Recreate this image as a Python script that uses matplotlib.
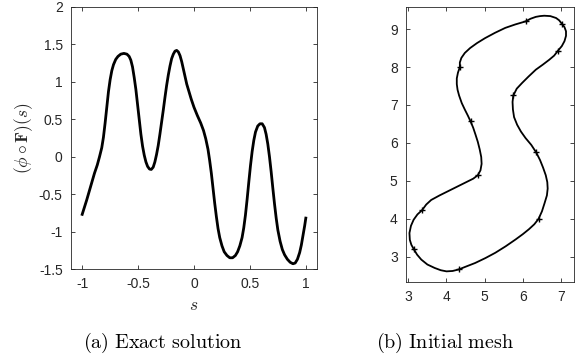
import numpy as np
import matplotlib
matplotlib.use("Agg")
import matplotlib.pyplot as plt

plt.rcParams['font.family'] = ['Liberation Sans', 'DejaVu Sans']
plt.rcParams['mathtext.fontset'] = 'cm'
plt.rcParams['axes.unicode_minus'] = False

# (a) exact solution
s_vals = [-1.0, -0.96, -0.925, -0.89, -0.865, -0.845, -0.825, -0.81, -0.795, -0.78,
          -0.765, -0.75, -0.735, -0.72, -0.70, -0.68, -0.655, -0.627, -0.60, -0.58,
          -0.565, -0.55, -0.535, -0.52, -0.505, -0.49, -0.475, -0.46, -0.445, -0.43,
          -0.415, -0.398, -0.382, -0.365, -0.35, -0.335, -0.32, -0.305, -0.29, -0.275,
          -0.26, -0.245, -0.23, -0.215, -0.20, -0.185, -0.17, -0.155, -0.14, -0.125,
          -0.11, -0.095, -0.08, -0.065, -0.045, -0.025, 0.0, 0.03, 0.06, 0.085,
          0.105, 0.125, 0.14, 0.155, 0.17, 0.185, 0.20, 0.215, 0.23, 0.25,
          0.27, 0.295, 0.32, 0.345, 0.37, 0.39, 0.41, 0.43, 0.445, 0.46,
          0.475, 0.49, 0.505, 0.52, 0.535, 0.55, 0.57, 0.59, 0.61, 0.63,
          0.645, 0.66, 0.675, 0.69, 0.705, 0.72, 0.735, 0.75, 0.77, 0.79,
          0.81, 0.835, 0.86, 0.885, 0.905, 0.925, 0.945, 0.96, 0.975, 0.99, 1.0]
phi_vals = [-0.77, -0.58, -0.40, -0.22, -0.11, 0.0, 0.12, 0.26, 0.45, 0.66,
            0.87, 1.03, 1.15, 1.23, 1.30, 1.34, 1.37, 1.38, 1.37, 1.34,
            1.29, 1.20, 1.06, 0.90, 0.70, 0.50, 0.30, 0.14, 0.02, -0.07,
            -0.13, -0.165, -0.17, -0.14, -0.07, 0.03, 0.15, 0.30, 0.46, 0.62,
            0.79, 0.95, 1.09, 1.21, 1.31, 1.37, 1.41, 1.42, 1.40, 1.35,
            1.27, 1.17, 1.07, 0.97, 0.87, 0.77, 0.66, 0.55, 0.45, 0.35,
            0.24, 0.10, -0.05, -0.22, -0.42, -0.62, -0.80, -0.96, -1.08, -1.19,
            -1.27, -1.32, -1.35, -1.35, -1.32, -1.27, -1.19, -1.08, -0.95, -0.78,
            -0.57, -0.34, -0.12, 0.07, 0.22, 0.33, 0.41, 0.44, 0.44, 0.39,
            0.30, 0.17, 0.0, -0.20, -0.42, -0.63, -0.82, -0.98, -1.13, -1.24,
            -1.31, -1.37, -1.41, -1.43, -1.42, -1.37, -1.28, -1.18, -1.05, -0.92, -0.82]

# (b) initial mesh boundary
bx = [4.35, 4.30, 4.27, 4.27, 4.29, 4.33, 4.40, 4.48, 4.56, 4.63, 4.70, 4.76, 4.82,
      4.87, 4.91, 4.92, 4.89, 4.82, 4.70, 4.48, 4.26, 4.04, 3.82, 3.60, 3.47, 3.36,
      3.24, 3.14, 3.07, 3.03, 3.04, 3.08, 3.14, 3.23, 3.34, 3.50, 3.69, 3.85, 4.00,
      4.16, 4.32, 4.52, 4.75, 5.02, 5.28, 5.55, 5.81, 6.00, 6.16, 6.30, 6.41, 6.50,
      6.57, 6.63, 6.65, 6.64, 6.60, 6.53, 6.45, 6.35, 6.22, 6.07, 5.95, 5.85, 5.77,
      5.74, 5.73, 5.75, 5.84, 5.98, 6.15, 6.34, 6.52, 6.69, 6.82, 6.92, 7.02, 7.09,
      7.13, 7.13, 7.09, 7.02, 6.95, 6.87, 6.72, 6.56, 6.45, 6.34, 6.20, 6.07, 5.80,
      5.54, 5.27, 5.01, 4.80, 4.62, 4.48, 4.39, 4.35, 4.35]
by = [8.00, 7.85, 7.70, 7.55, 7.40, 7.25, 7.05, 6.88, 6.72, 6.57, 6.40, 6.22, 6.03,
      5.83, 5.63, 5.45, 5.28, 5.15, 5.06, 4.95, 4.84, 4.73, 4.62, 4.50, 4.38, 4.23,
      4.12, 3.98, 3.82, 3.63, 3.45, 3.32, 3.21, 3.06, 2.93, 2.80, 2.71, 2.65, 2.62,
      2.63, 2.67, 2.75, 2.84, 2.97, 3.11, 3.28, 3.46, 3.60, 3.73, 3.86, 4.00, 4.20,
      4.42, 4.62, 4.80, 4.97, 5.15, 5.35, 5.55, 5.75, 5.95, 6.13, 6.30, 6.48, 6.68,
      6.88, 7.08, 7.25, 7.43, 7.58, 7.75, 7.93, 8.06, 8.19, 8.30, 8.43, 8.55, 8.68,
      8.82, 8.94, 9.05, 9.14, 9.23, 9.29, 9.34, 9.35, 9.34, 9.32, 9.27, 9.20, 9.12,
      9.03, 8.90, 8.76, 8.63, 8.50, 8.37, 8.24, 8.12, 8.00]
node_x = [4.35, 4.63, 4.82, 3.36, 3.14, 4.32, 6.41, 6.35, 5.75, 6.92, 7.02, 6.07]
node_y = [8.00, 6.57, 5.15, 4.23, 3.21, 2.67, 4.00, 5.75, 7.25, 8.43, 9.14, 9.20]

grey = '#262626'

fig = plt.figure(figsize=(5.75, 3.62), dpi=100)
ax1 = fig.add_axes([0.1235, 0.2569, 0.4278, 0.7238])
ax2 = fig.add_axes([0.7061, 0.2210, 0.2922, 0.7597])

for ax in (ax1, ax2):
    ax.tick_params(direction='in', length=3, width=0.6, colors=grey, labelsize=10,
                   top=True, right=True, labeltop=False, labelright=False, pad=6)
    for sp in ax.spines.values():
        sp.set_color(grey)
        sp.set_linewidth(0.6)

ax1.plot(s_vals, phi_vals, color='k', lw=2.0, solid_joinstyle='round')
ax1.set_xlim(-1.1, 1.1)
ax1.set_ylim(-1.5, 2)
ax1.set_xticks([-1, -0.5, 0, 0.5, 1])
ax1.set_xticklabels(['-1', '-0.5', '0', '0.5', '1'])
ax1.set_yticks([-1.5, -1, -0.5, 0, 0.5, 1, 1.5, 2])
ax1.set_yticklabels(['-1.5', '-1', '-0.5', '0', '0.5', '1', '1.5', '2'])
ax1.set_xlabel(r'$s$', fontsize=12.5, color=grey, labelpad=5)
ax1.set_ylabel(r'$(\phi\circ\mathbf{F})(s)$', fontsize=12.5, color=grey, labelpad=3)

ax2.plot(bx, by, color='k', lw=1.3, solid_joinstyle='round')
ax2.plot(node_x, node_y, ls='none', marker='+', ms=5, mew=1.0, color='k')
ax2.set_xlim(2.94, 7.34)
ax2.set_ylim(2.34, 9.58)
ax2.set_xticks([3, 4, 5, 6, 7])
ax2.set_yticks([3, 4, 5, 6, 7, 8, 9])

fig.text(163 / 575, 1 - 343 / 362, r'$\mathrm{(a)\ Exact\ solution}$', ha='center', va='center', fontsize=14.5)
fig.text(445 / 575, 1 - 343 / 362, r'$\mathrm{(b)\ Initial\ mesh}$', ha='center', va='center', fontsize=14.5)

fig.savefig('out.png', dpi=100)
